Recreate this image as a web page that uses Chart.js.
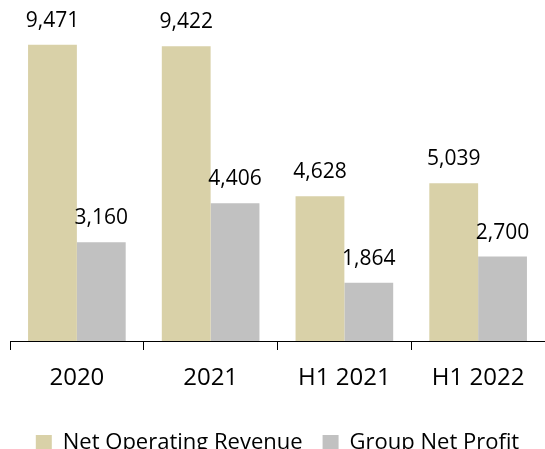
<!DOCTYPE html>
<html>
<head>
<meta charset="utf-8">
<script src="https://cdn.jsdelivr.net/npm/chart.js@4"></script>
<style>
html,body{margin:0;padding:0;background:#fff;overflow:hidden;}
#wrap{position:relative;width:545px;height:464px;}
</style>
</head>
<body>
<div id="wrap"><canvas id="c" width="545" height="464"></canvas></div>
<script>
const categories = ["2020", "2021", "H1 2021", "H1 2022"];
const seriesNames = ["Net Operating Revenue", "Group Net Profit"];
const revenue = [9471, 9422, 4628, 5039];
const profit = [3160, 4406, 1864, 2700];

const FONT = "'Open Sans', 'Liberation Sans', sans-serif";

const dataLabels = {
  id: 'dataLabels',
  afterDatasetsDraw(chart) {
    const ctx = chart.ctx;
    ctx.save();
    ctx.font = "21px " + FONT;
    ctx.fillStyle = "#000";
    ctx.textAlign = "center";
    ctx.textBaseline = "alphabetic";
    chart.data.datasets.forEach((ds, i) => {
      const meta = chart.getDatasetMeta(i);
      meta.data.forEach((bar, j) => {
        ctx.fillText(ds.data[j].toLocaleString('en-US'), bar.x, bar.y - 18);
      });
    });
    ctx.restore();
  }
};

new Chart(document.getElementById('c'), {
  type: 'bar',
  data: {
    labels: categories,
    datasets: [
      { label: seriesNames[0], data: revenue, backgroundColor: '#D9D1A8', barPercentage: 1.0, categoryPercentage: 0.73 },
      { label: seriesNames[1], data: profit, backgroundColor: '#C1C1C1', barPercentage: 1.0, categoryPercentage: 0.73 }
    ]
  },
  options: {
    responsive: false,
    animation: false,
    devicePixelRatio: 1,
    layout: { padding: { left: 10, right: 0, top: 0, bottom: 0 } },
    scales: {
      x: {
        grid: { display: true, drawOnChartArea: false, drawTicks: true, tickLength: 9, color: '#000', lineWidth: 1, offset: true },
        border: { display: true, color: '#000', width: 1 },
        ticks: { color: '#000', font: { family: FONT, size: 24 }, padding: 14 },
        afterFit(s) { s.height = 71; }
      },
      y: {
        display: false,
        min: 0,
        max: 10900
      }
    },
    plugins: {
      legend: {
        position: 'bottom',
        labels: { color: '#000', font: { family: FONT, size: 22 }, boxWidth: 16, boxHeight: 16, padding: 20 }
      },
      tooltip: { enabled: false }
    }
  },
  plugins: [dataLabels]
});
</script>
</body>
</html>
